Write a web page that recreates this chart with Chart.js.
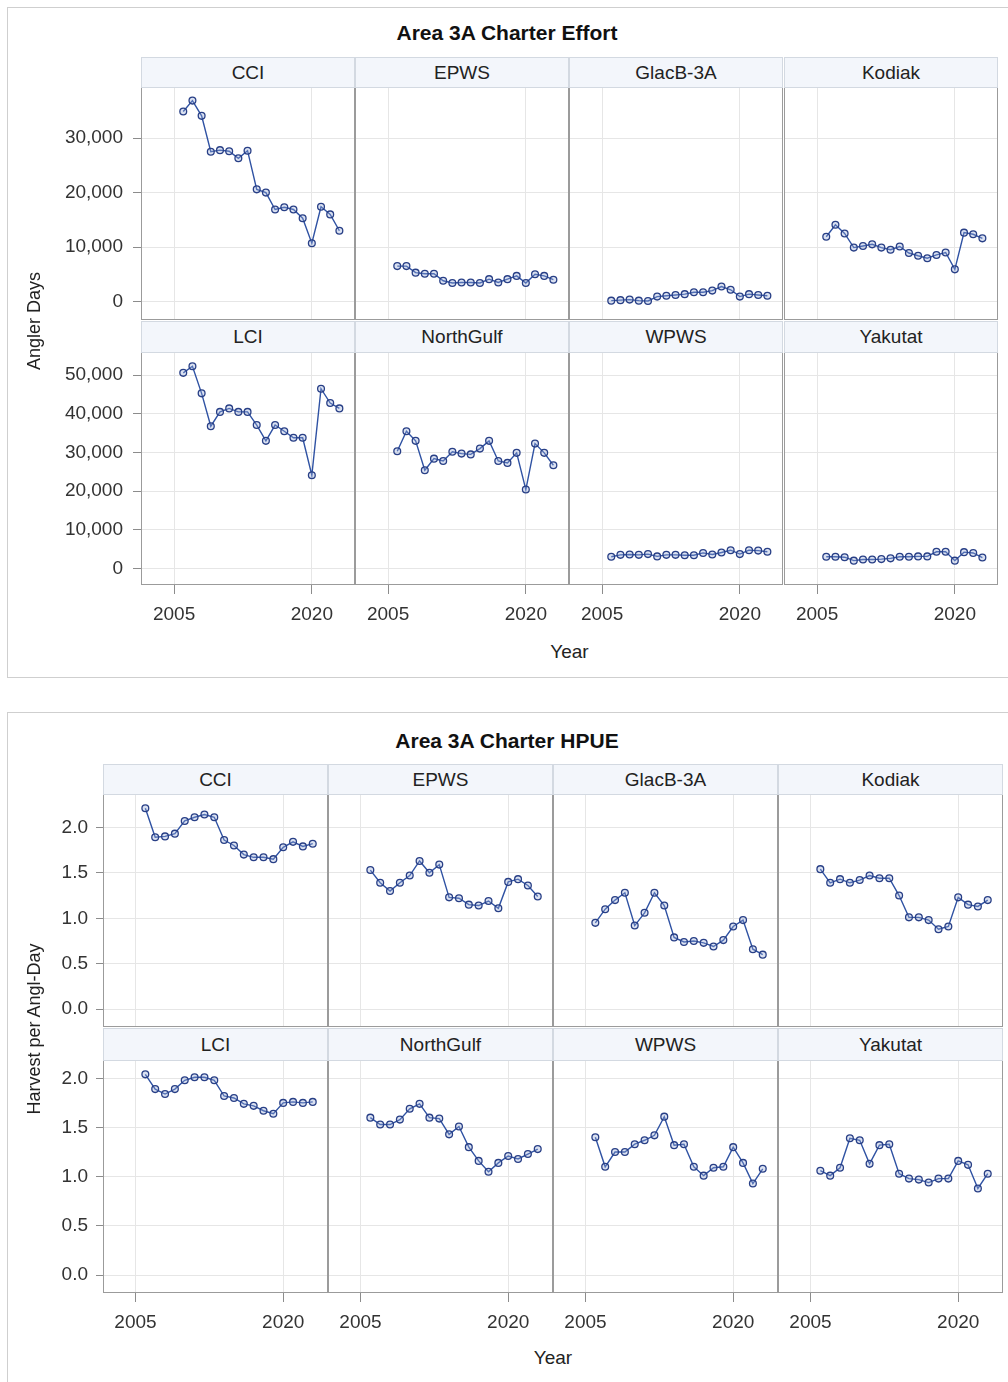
<!DOCTYPE html>
<html>
<head>
<meta charset="utf-8">
<title>Area 3A Charter Effort and HPUE</title>
<script src="https://cdn.jsdelivr.net/npm/chart.js@4.4.1/dist/chart.umd.min.js"></script>
<style>
  body { margin: 0; background: #fff; font-family: "Liberation Sans", Arial, sans-serif; }
  canvas { position: absolute; }
  .box { position: absolute; box-sizing: border-box; }
  .panel { border: 1px solid #cfcfcf; }
  .frame { border: 1px solid #9b9b9b; pointer-events: none; }
  .hdr { background: #f3f6fb; border: 1px solid #d3d9e1; color: #222; font-size: 19px;
         display: flex; align-items: center; justify-content: center; }
  .title { font-weight: bold; font-size: 21px; color: #111; text-align: center; }
  .xtitle { font-size: 19px; color: #222; text-align: center; }
  .ytitle { font-size: 18px; color: #222; text-align: center; white-space: nowrap;
            transform: rotate(-90deg); }
</style>
</head>
<body>
<script>
"use strict";

// Data
const years = [2006, 2007, 2008, 2009, 2010, 2011, 2012, 2013, 2014,
               2015, 2016, 2017, 2018, 2019, 2020, 2021, 2022, 2023];
const regions = ['CCI', 'EPWS', 'GlacB-3A', 'Kodiak', 'LCI', 'NorthGulf', 'WPWS', 'Yakutat'];
const yearTicks = [2005, 2020];
const effortTicksRow1 = [0, 10000, 20000, 30000];
const effortTicksRow2 = [0, 10000, 20000, 30000, 40000, 50000];
const hpueTicks = [0, 0.5, 1.0, 1.5, 2.0];

// Angler days
const effortCCI = [34900, 36900, 34100, 27500, 27800, 27600, 26300, 27700, 20600,
                   20000, 16900, 17300, 16900, 15300, 10700, 17400, 16000, 13000];
const effortEPWS = [6500, 6500, 5300, 5100, 5100, 3800, 3400, 3500, 3500,
                    3400, 4100, 3500, 4100, 4700, 3400, 5000, 4700, 4000];
const effortGlacB = [150, 250, 350, 150, 100, 900, 1050, 1200, 1350,
                     1700, 1700, 2000, 2750, 2150, 900, 1350, 1200, 1050];
const effortKodiak = [11900, 14100, 12500, 9900, 10200, 10500, 9900, 9500, 10100,
                      8900, 8400, 7950, 8550, 9000, 5900, 12650, 12350, 11600];
const effortLCI = [50600, 52300, 45300, 36800, 40500, 41400, 40500, 40500, 37100,
                   33000, 37100, 35500, 33800, 33800, 24100, 46500, 42800, 41400];
const effortNorthGulf = [30300, 35500, 33000, 25400, 28400, 27800, 30200, 29700, 29500,
                         31000, 33000, 27800, 27300, 29900, 20400, 32300, 29900, 26700];
const effortWPWS = [3000, 3500, 3600, 3500, 3700, 3100, 3500, 3500, 3400,
                    3400, 4000, 3600, 4100, 4700, 3700, 4700, 4600, 4300];
const effortYakutat = [3000, 3000, 2900, 2000, 2300, 2300, 2400, 2600, 3000,
                       3000, 3100, 3100, 4300, 4300, 2000, 4200, 4000, 2800];

// Harvest per angler-day
const hpueCCI = [2.21, 1.89, 1.90, 1.93, 2.07, 2.11, 2.14, 2.11, 1.86,
                 1.80, 1.70, 1.67, 1.67, 1.65, 1.78, 1.84, 1.79, 1.82];
const hpueEPWS = [1.53, 1.39, 1.30, 1.39, 1.47, 1.63, 1.50, 1.59, 1.23,
                  1.22, 1.15, 1.14, 1.19, 1.11, 1.40, 1.43, 1.36, 1.24];
const hpueGlacB = [0.95, 1.10, 1.20, 1.28, 0.92, 1.06, 1.28, 1.14, 0.79,
                   0.74, 0.75, 0.73, 0.69, 0.76, 0.91, 0.98, 0.66, 0.60];
const hpueKodiak = [1.54, 1.39, 1.43, 1.39, 1.42, 1.47, 1.44, 1.44, 1.25,
                    1.01, 1.01, 0.98, 0.88, 0.91, 1.23, 1.15, 1.13, 1.20];
const hpueLCI = [2.04, 1.89, 1.84, 1.89, 1.98, 2.01, 2.01, 1.98, 1.82,
                 1.80, 1.74, 1.72, 1.67, 1.64, 1.75, 1.76, 1.75, 1.76];
const hpueNorthGulf = [1.60, 1.53, 1.53, 1.58, 1.69, 1.74, 1.60, 1.59, 1.43,
                       1.51, 1.30, 1.16, 1.05, 1.14, 1.21, 1.18, 1.23, 1.28];
const hpueWPWS = [1.40, 1.10, 1.25, 1.25, 1.33, 1.37, 1.42, 1.61, 1.32,
                  1.33, 1.10, 1.01, 1.09, 1.10, 1.30, 1.14, 0.93, 1.08];
const hpueYakutat = [1.06, 1.01, 1.09, 1.39, 1.37, 1.13, 1.32, 1.33, 1.03,
                     0.98, 0.97, 0.94, 0.98, 0.98, 1.16, 1.12, 0.88, 1.03];

const lineColor = '#2f52a3';
const gridColor = '#e6e6e6';
const tickColor = '#8c8c8c';
const labelColor = '#333';
const fontFamily = '"Liberation Sans", Arial, sans-serif';

// Layout of the two lattice panels
const panels = [
    {
        title: 'Area 3A Charter Effort', yTitle: 'Angler Days',
        box: { x: 7, y: 7, w: 1010, h: 671 }, titleY: 21,
        colLefts: [141, 355, 569, 784], colW: 214,
        yAxisW: 100, yTickLen: 8, yTickPad: 10, xAxisH: 50, xMin: 2001.4, xMax: 2024.7,
        rows: [
            { hdr: 57, plot: 87, h: 233, min: -3400, max: 39400, ticks: effortTicksRow1 },
            { hdr: 321, plot: 352, h: 233, min: -4300, max: 56000, ticks: effortTicksRow2 }
        ],
        yearTitleY: 641,
        series: [effortCCI, effortEPWS, effortGlacB, effortKodiak,
                 effortLCI, effortNorthGulf, effortWPWS, effortYakutat],
        fmt: v => v.toLocaleString('en-US')
    },
    {
        title: 'Area 3A Charter HPUE', yTitle: 'Harvest per Angl-Day',
        box: { x: 7, y: 712, w: 1010, h: 690 }, titleY: 729,
        colLefts: [103, 328, 553, 778], colW: 225,
        yAxisW: 80, yTickLen: 7, yTickPad: 8, xAxisH: 50, xMin: 2001.7, xMax: 2024.55,
        rows: [
            { hdr: 764, plot: 794, h: 233, min: -0.195, max: 2.366, ticks: hpueTicks },
            { hdr: 1028, plot: 1060, h: 233, min: -0.183, max: 2.186, ticks: hpueTicks }
        ],
        yearTitleY: 1347,
        series: [hpueCCI, hpueEPWS, hpueGlacB, hpueKodiak,
                 hpueLCI, hpueNorthGulf, hpueWPWS, hpueYakutat],
        fmt: v => v.toFixed(1)
    }
];

function addBox(cls, x, y, w, h, text) {
    const d = document.createElement('div');
    d.className = 'box ' + cls;
    d.style.left = x + 'px';
    d.style.top = y + 'px';
    if (w !== null) d.style.width = w + 'px';
    if (h !== null) d.style.height = h + 'px';
    if (text) d.textContent = text;
    document.body.appendChild(d);
    return d;
}

// force an axis to a fixed size and drop the label padding Chart.js adds
function fixSize(s, size) {
    if (s.isHorizontal()) s.height = size;
    else s.width = size;
    s.paddingTop = s.paddingBottom = s.paddingLeft = s.paddingRight = 0;
}

function drawCell(p, r, c) {
    const row = p.rows[r];
    const left = p.colLefts[c];
    const padL = c === 0 ? p.yAxisW : 0;
    const padB = r === 1 ? p.xAxisH : 0;
    const values = p.series[r * 4 + c];

    const cv = document.createElement('canvas');
    cv.width = p.colW + padL;
    cv.height = row.h + padB;
    cv.style.left = (left - padL) + 'px';
    cv.style.top = row.plot + 'px';
    document.body.appendChild(cv);

    new Chart(cv, {
        type: 'line',
        data: {
            datasets: [{
                data: years.map((yr, i) => ({ x: yr, y: values[i] })),
                borderColor: lineColor,
                borderWidth: 1.4,
                pointRadius: 3.4,
                pointHoverRadius: 3.4,
                pointBorderWidth: 1.3,
                pointBorderColor: '#283f86',
                pointBackgroundColor: 'rgba(150,170,215,0.35)',
                tension: 0
            }]
        },
        options: {
            responsive: false,
            animation: false,
            events: [],
            layout: { padding: 0, autoPadding: false },
            plugins: { legend: { display: false }, tooltip: { enabled: false } },
            scales: {
                x: {
                    type: 'linear',
                    min: p.xMin,
                    max: p.xMax,
                    afterBuildTicks: s => { s.ticks = yearTicks.map(v => ({ value: v })); },
                    afterFit: s => fixSize(s, padB),
                    border: { display: false },
                    grid: { color: gridColor, drawTicks: r === 1, tickLength: 9, tickColor: tickColor },
                    ticks: {
                        display: r === 1, padding: 9, maxRotation: 0, autoSkip: false,
                        color: labelColor, font: { family: fontFamily, size: 19 },
                        callback: v => String(v)
                    }
                },
                y: {
                    type: 'linear',
                    min: row.min,
                    max: row.max,
                    afterBuildTicks: s => { s.ticks = row.ticks.map(v => ({ value: v })); },
                    afterFit: s => fixSize(s, padL),
                    border: { display: false },
                    grid: { color: gridColor, drawTicks: c === 0, tickLength: p.yTickLen, tickColor: tickColor },
                    ticks: {
                        display: c === 0, padding: p.yTickPad, autoSkip: false,
                        color: labelColor, font: { family: fontFamily, size: 19 },
                        callback: p.fmt
                    }
                }
            }
        }
    });

    // cell frame and strip header
    addBox('frame', left, row.plot, p.colW, row.h);
    addBox('hdr', left, row.hdr, p.colW, row.plot - row.hdr + 1, regions[r * 4 + c]);
}

panels.forEach(p => {
    addBox('panel', p.box.x, p.box.y, p.box.w, p.box.h);
    const gridLeft = p.colLefts[0];
    const gridRight = p.colLefts[3] + p.colW;
    addBox('title', p.box.x, p.titleY, p.box.w - 10, null, p.title);
    for (let r = 0; r < 2; r++) {
        for (let c = 0; c < 4; c++) drawCell(p, r, c);
    }
    addBox('xtitle', gridLeft, p.yearTitleY, gridRight - gridLeft, null, 'Year');
    const midY = (p.rows[0].hdr + p.rows[1].plot + p.rows[1].h) / 2;
    const yt = addBox('ytitle', 34 - 100, midY - 10, 200, 20, p.yTitle);
    yt.style.lineHeight = '20px';
});
</script>
</body>
</html>
